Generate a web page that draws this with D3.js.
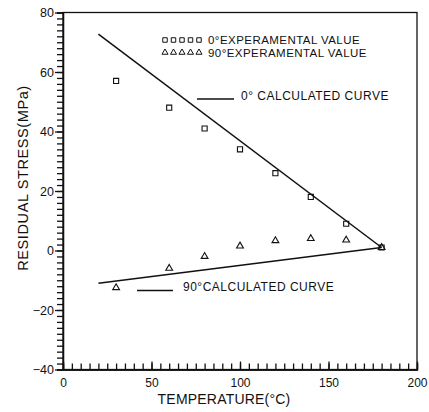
<!DOCTYPE html>
<html>
<head>
<meta charset="utf-8">
<script src="https://cdn.jsdelivr.net/npm/d3@7"></script>
<style>
  body { margin: 0; background: #fff; }
  text { font-family: "Liberation Sans", Arial, sans-serif; fill: #111; }
</style>
</head>
<body>
<svg width="429" height="412"></svg>
<script>
// values
const temps0 = [30, 60, 80, 100, 120, 140, 160, 180]
const stress0 = [57, 48, 41, 34, 26, 18, 9, 1]
const temps90 = [30, 60, 80, 100, 120, 140, 160, 180]
const stress90 = [-12.5, -6, -2, 1.5, 3.3, 4, 3.5, 1]
const calc0 = [[20, 72.7], [180, 1]]
const calc90 = [[20, -11], [180, 1]]
const xTicks = [0, 50, 100, 150, 200]
const yTicks = [-40, -20, 0, 20, 40, 60, 80]

const svg = d3.select("svg")
const margin = { top: 12.5, right: 12, bottom: 42.5, left: 63 }
const width = 429 - margin.left - margin.right
const height = 412 - margin.top - margin.bottom

const x = d3.scaleLinear().domain([0, 200]).range([0, width])
const y = d3.scaleLinear().domain([-40, 80]).range([height, 0])

const g = svg.append("g").attr("transform", `translate(${margin.left},${margin.top})`)

// frame
g.append("rect")
  .attr("x", 0).attr("y", 0)
  .attr("width", width).attr("height", height)
  .attr("fill", "none").attr("stroke", "#111").attr("stroke-width", 1.3)

// x axis: minor ticks every 5, pointing up into the plot
g.append("g")
  .attr("transform", `translate(0,${height})`)
  .call(d3.axisBottom(x).tickValues(d3.range(0, 201, 5)).tickSize(-6).tickFormat(""))
g.append("g")
  .attr("transform", `translate(0,${height})`)
  .call(d3.axisBottom(x).tickValues(xTicks).tickSizeInner(-8).tickSizeOuter(0).tickPadding(9))
  .call(a => a.selectAll("text").attr("font-size", 12).attr("font-family", null))

// y axis: minor ticks every 2, pointing left
g.append("g")
  .call(d3.axisLeft(y).tickValues(d3.range(-40, 81, 2)).tickSize(6).tickFormat(""))
g.append("g")
  .call(d3.axisLeft(y).tickValues(yTicks).tickSizeInner(8).tickSizeOuter(0).tickPadding(1)
    .tickFormat(d => d < 0 ? "\u2212" + Math.abs(d) : d))
  .call(a => a.selectAll("text").attr("font-size", 12.5).attr("font-family", null))

g.selectAll(".domain").attr("stroke", "#111").attr("stroke-width", 1.3)
g.selectAll(".tick line").attr("stroke", "#111").attr("stroke-width", 1.3)

// axis titles
svg.append("text")
  .attr("x", 224).attr("y", 404)
  .attr("text-anchor", "middle")
  .attr("font-size", 14)
  .attr("letter-spacing", 0.2)
  .text("TEMPERATURE(°C)")

svg.append("text")
  .attr("transform", "translate(28,178) rotate(-90)")
  .attr("text-anchor", "middle")
  .attr("font-size", 14.5)
  .attr("letter-spacing", 0.6)
  .text("RESIDUAL STRESS(MPa)")

// calculated curves
const line = d3.line().x(d => x(d[0])).y(d => y(d[1]))
g.append("path").datum(calc0)
  .attr("d", line).attr("fill", "none").attr("stroke", "#111").attr("stroke-width", 1.5)
g.append("path").datum(calc90)
  .attr("d", line).attr("fill", "none").attr("stroke", "#111").attr("stroke-width", 1.5)

// markers
const sq = d3.symbol().type(d3.symbolSquare).size(26)
const tri = d3.symbol().type(d3.symbolTriangle).size(20)

g.selectAll("path.sq")
  .data(temps0.map((t, i) => [t, stress0[i]]))
  .enter().append("path")
  .attr("class", "sq")
  .attr("d", sq)
  .attr("transform", d => `translate(${x(d[0])},${y(d[1])})`)
  .attr("fill", "none").attr("stroke", "#111").attr("stroke-width", 1.1)

g.selectAll("path.tri")
  .data(temps90.map((t, i) => [t, stress90[i]]))
  .enter().append("path")
  .attr("class", "tri")
  .attr("d", tri)
  .attr("transform", d => `translate(${x(d[0])},${y(d[1])})`)
  .attr("fill", "none").attr("stroke", "#111").attr("stroke-width", 1.1)

// legend
const legend = svg.append("g")
legend.selectAll("path.lsq")
  .data(d3.range(5))
  .enter().append("path")
  .attr("class", "lsq")
  .attr("d", d3.symbol().type(d3.symbolSquare).size(20))
  .attr("transform", i => `translate(${165 + i * 8.5},40)`)
  .attr("fill", "none").attr("stroke", "#111").attr("stroke-width", 1)
legend.selectAll("path.ltri")
  .data(d3.range(5))
  .enter().append("path")
  .attr("class", "ltri")
  .attr("d", d3.symbol().type(d3.symbolTriangle).size(16))
  .attr("transform", i => `translate(${165 + i * 8.5},52.5)`)
  .attr("fill", "none").attr("stroke", "#111").attr("stroke-width", 1)

legend.append("text")
  .attr("x", 208).attr("y", 44)
  .attr("font-size", 11.5)
  .attr("letter-spacing", 0.45)
  .text("0°EXPERAMENTAL  VALUE")
legend.append("text")
  .attr("x", 208).attr("y", 57)
  .attr("font-size", 11.5)
  .attr("letter-spacing", 0.45)
  .text("90°EXPERAMENTAL  VALUE")

legend.append("line")
  .attr("x1", 197).attr("x2", 234).attr("y1", 99).attr("y2", 99)
  .attr("stroke", "#111").attr("stroke-width", 1.3)
legend.append("text")
  .attr("x", 241).attr("y", 100)
  .attr("font-size", 12)
  .attr("letter-spacing", 0.5)
  .text("0°  CALCULATED  CURVE")

legend.append("line")
  .attr("x1", 137).attr("x2", 173).attr("y1", 290.5).attr("y2", 290.5)
  .attr("stroke", "#111").attr("stroke-width", 1.3)
legend.append("text")
  .attr("x", 183).attr("y", 291)
  .attr("font-size", 12)
  .attr("letter-spacing", 0.5)
  .text("90°CALCULATED  CURVE")
</script>
</body>
</html>
